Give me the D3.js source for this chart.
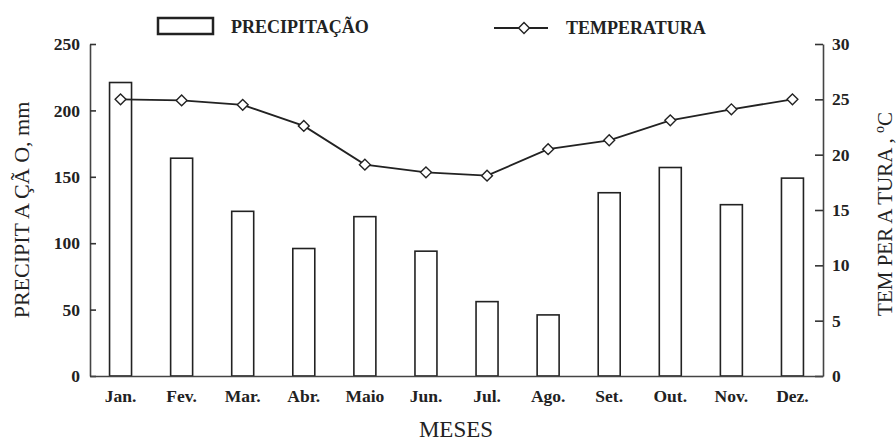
<!DOCTYPE html>
<html>
<head>
<meta charset="utf-8">
<script src="https://cdn.jsdelivr.net/npm/d3@7"></script>
<style>
  body { margin: 0; background: #fff; }
  text { font-family: "Liberation Serif", "Times New Roman", serif; fill: #222; }
</style>
</head>
<body>
<div class="container"></div>
<script>
const width = 896;
const height = 441;
const margin = { top: 44, bottom: 65, left: 90, right: 73 };

const months = ['Jan.', 'Fev.', 'Mar.', 'Abr.', 'Maio', 'Jun.', 'Jul.', 'Ago.', 'Set.', 'Out.', 'Nov.', 'Dez.'];
const precipitation = [221, 164, 124, 96, 120, 94, 56, 46, 138, 157, 129, 149];
const temperature = [25.0, 24.9, 24.5, 22.6, 19.1, 18.4, 18.1, 20.5, 21.3, 23.1, 24.1, 25.0];
const precipTicks = [0, 50, 100, 150, 200, 250];
const tempTicks = [0, 5, 10, 15, 20, 25, 30];

const svg = d3.select('.container')
    .append('svg')
    .attr('width', width)
    .attr('height', height);

const x = d3.scaleBand()
    .domain(months)
    .range([margin.left, width - margin.right])
    .paddingInner(0.64)
    .paddingOuter(0.32);

const yP = d3.scaleLinear()
    .domain([0, 250])
    .range([height - margin.bottom, margin.top]);

const yT = d3.scaleLinear()
    .domain([0, 30])
    .range([height - margin.bottom, margin.top]);

// bars
svg.append('g')
    .selectAll('rect')
    .data(precipitation)
    .join('rect')
    .attr('x', (d, i) => x(months[i]))
    .attr('y', d => yP(d))
    .attr('width', x.bandwidth())
    .attr('height', d => yP(0) - yP(d))
    .style('fill', '#fff')
    .style('stroke', '#222')
    .style('stroke-width', 1.6);

// axes
const leftAxis = svg.append('g')
    .attr('transform', 'translate(' + margin.left + ',0)')
    .call(d3.axisLeft(yP).tickValues(precipTicks).tickSizeInner(-6).tickSizeOuter(0).tickPadding(10));

const rightAxis = svg.append('g')
    .attr('transform', 'translate(' + (width - margin.right) + ',0)')
    .call(d3.axisRight(yT).tickValues(tempTicks).tickSizeInner(-8).tickSizeOuter(0).tickPadding(9));

const bottomAxis = svg.append('g')
    .attr('transform', 'translate(0,' + (height - margin.bottom) + ')')
    .call(d3.axisBottom(x).tickSize(0).tickPadding(14));

[leftAxis, rightAxis, bottomAxis].forEach(g => {
    g.select('.domain').style('stroke', '#444').style('stroke-width', 1.6);
    g.selectAll('.tick line').style('stroke', '#333').style('stroke-width', 1.6);
    g.selectAll('.tick text')
        .style('font-family', '"Liberation Serif", serif')
        .style('font-size', '17.5px')
        .style('font-weight', 'bold')
        .style('fill', '#222');
});

// temperature line
const line = d3.line()
    .x((d, i) => x(months[i]) + x.bandwidth() / 2)
    .y(d => yT(d));

svg.append('path')
    .datum(temperature)
    .attr('d', line)
    .style('fill', 'none')
    .style('stroke', '#222')
    .style('stroke-width', 1.8);

const diamond = d3.symbol().type(d3.symbolDiamond2).size(75);

svg.append('g')
    .selectAll('path')
    .data(temperature)
    .join('path')
    .attr('d', diamond)
    .attr('transform', (d, i) => 'translate(' + (x(months[i]) + x.bandwidth() / 2) + ',' + yT(d) + ')')
    .style('fill', '#fff')
    .style('stroke', '#222')
    .style('stroke-width', 1.4);

// axis titles
svg.append('text')
    .attr('transform', 'translate(29,210) rotate(-90)')
    .attr('text-anchor', 'middle')
    .style('font-size', '22px')
    .text('PRECIPIT A ÇÃ O, mm');

const rt = svg.append('text')
    .attr('transform', 'translate(892,214) rotate(-90)')
    .attr('text-anchor', 'middle')
    .style('font-size', '21px');
rt.append('tspan').text('TEM PER A TURA ,  ');
rt.append('tspan').attr('dy', -8).style('font-size', '14px').text('o');
rt.append('tspan').attr('dy', 8).text('C');

svg.append('text')
    .attr('x', 456)
    .attr('y', 437)
    .attr('text-anchor', 'middle')
    .style('font-size', '23px')
    .text('MESES');

// legend
svg.append('rect')
    .attr('x', 158)
    .attr('y', 18)
    .attr('width', 55)
    .attr('height', 16)
    .style('fill', '#fff')
    .style('stroke', '#222')
    .style('stroke-width', 2.5);

svg.append('text')
    .attr('x', 231)
    .attr('y', 33)
    .style('font-size', '18px')
    .style('font-weight', 'bold')
    .text('PRECIPITAÇÃO');

svg.append('line')
    .attr('x1', 494).attr('x2', 548)
    .attr('y1', 28).attr('y2', 28)
    .style('stroke', '#222')
    .style('stroke-width', 1.8);

svg.append('path')
    .attr('d', diamond)
    .attr('transform', 'translate(524,28)')
    .style('fill', '#fff')
    .style('stroke', '#222')
    .style('stroke-width', 1.4);

svg.append('text')
    .attr('x', 566)
    .attr('y', 34)
    .style('font-size', '18px')
    .style('font-weight', 'bold')
    .text('TEMPERATURA');
</script>
</body>
</html>
